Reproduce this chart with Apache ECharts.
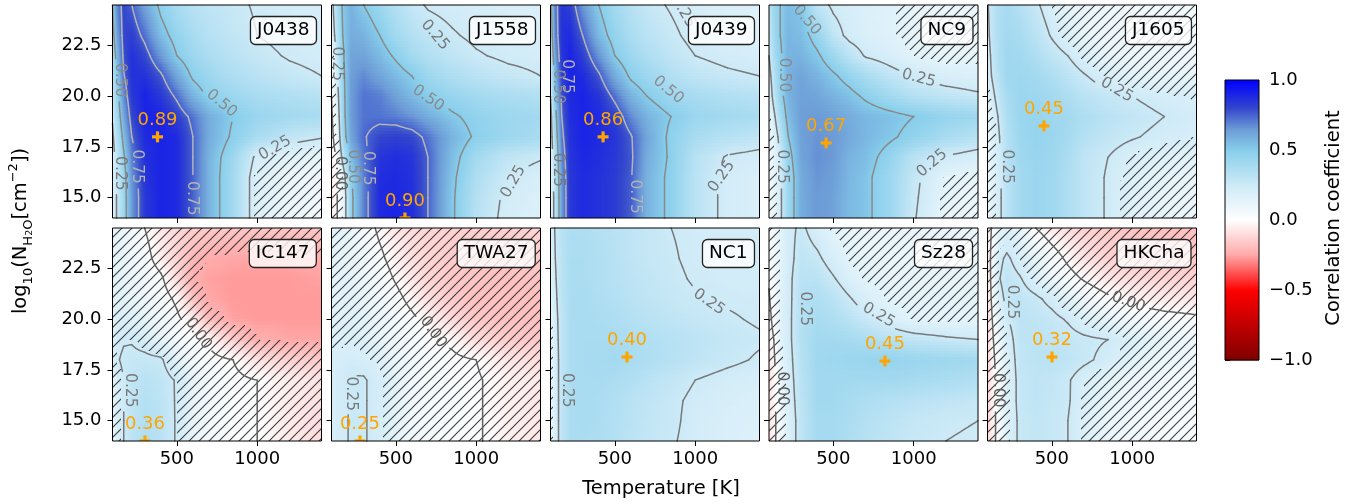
<!DOCTYPE html>
<html>
<head>
<meta charset="utf-8">
<script src="https://cdn.jsdelivr.net/npm/echarts@6/dist/echarts.min.js"></script>
<style>
  html, body { margin: 0; padding: 0; background: #fff; }
  #chart { width: 1361px; height: 504px; }
</style>
</head>
<body>
<div id="chart"></div>
<script>
// grid nodes of the correlation maps
const tempNodes = [100, 130, 170, 220, 300, 400, 500, 600, 700, 850, 1000, 1200, 1400];
const logNNodes = [24.5, 23, 22, 21, 20, 19, 18, 17, 16, 15, 14]; // rows, top to bottom

const panelNames = ['J0438', 'J1558', 'J0439', 'NC9', 'J1605', 'IC147', 'TWA27', 'NC1', 'Sz28', 'HKCha'];

const J0438 = [
  [0.50, 0.68, 0.80, 0.75, 0.62, 0.47, 0.38, 0.33, 0.30, 0.27, 0.24, 0.22, 0.21],
  [0.45, 0.62, 0.80, 0.82, 0.72, 0.55, 0.45, 0.38, 0.33, 0.29, 0.25, 0.22, 0.21],
  [0.40, 0.56, 0.78, 0.86, 0.80, 0.65, 0.50, 0.42, 0.37, 0.32, 0.28, 0.24, 0.22],
  [0.35, 0.50, 0.74, 0.86, 0.86, 0.77, 0.62, 0.48, 0.42, 0.36, 0.32, 0.28, 0.25],
  [0.30, 0.45, 0.68, 0.84, 0.90, 0.84, 0.73, 0.58, 0.48, 0.42, 0.38, 0.35, 0.33],
  [0.26, 0.40, 0.62, 0.80, 0.90, 0.90, 0.82, 0.72, 0.60, 0.50, 0.43, 0.40, 0.38],
  [0.23, 0.34, 0.55, 0.75, 0.88, 0.90, 0.88, 0.75, 0.60, 0.48, 0.38, 0.30, 0.26],
  [0.21, 0.29, 0.48, 0.70, 0.86, 0.90, 0.88, 0.75, 0.58, 0.42, 0.22, 0.15, 0.12],
  [0.20, 0.27, 0.44, 0.66, 0.85, 0.90, 0.88, 0.75, 0.58, 0.40, 0.18, 0.10, 0.08],
  [0.20, 0.26, 0.43, 0.65, 0.84, 0.90, 0.88, 0.75, 0.58, 0.40, 0.18, 0.10, 0.07],
  [0.20, 0.26, 0.43, 0.65, 0.84, 0.90, 0.88, 0.75, 0.58, 0.40, 0.18, 0.10, 0.07]
];
const J1558 = [
  [0.20, 0.35, 0.52, 0.58, 0.50, 0.42, 0.34, 0.28, 0.24, 0.22, 0.20, 0.19, 0.18],
  [0.16, 0.30, 0.50, 0.60, 0.58, 0.50, 0.40, 0.34, 0.30, 0.26, 0.23, 0.21, 0.20],
  [0.10, 0.25, 0.48, 0.62, 0.62, 0.56, 0.48, 0.40, 0.35, 0.30, 0.26, 0.23, 0.22],
  [0.05, 0.20, 0.46, 0.64, 0.68, 0.62, 0.56, 0.50, 0.42, 0.36, 0.32, 0.28, 0.25],
  [0.00, 0.15, 0.45, 0.64, 0.72, 0.70, 0.63, 0.56, 0.50, 0.44, 0.40, 0.37, 0.35],
  [-0.02, 0.10, 0.44, 0.64, 0.72, 0.72, 0.70, 0.66, 0.60, 0.52, 0.46, 0.42, 0.40],
  [-0.03, 0.05, 0.42, 0.62, 0.74, 0.80, 0.82, 0.80, 0.72, 0.58, 0.48, 0.42, 0.38],
  [-0.04, 0.00, 0.30, 0.55, 0.72, 0.85, 0.87, 0.85, 0.75, 0.55, 0.40, 0.30, 0.26],
  [-0.05, -0.02, 0.15, 0.48, 0.70, 0.87, 0.88, 0.86, 0.75, 0.53, 0.36, 0.25, 0.20],
  [-0.05, -0.02, 0.12, 0.46, 0.70, 0.88, 0.89, 0.87, 0.75, 0.52, 0.34, 0.22, 0.18],
  [-0.05, -0.02, 0.12, 0.46, 0.70, 0.88, 0.90, 0.87, 0.75, 0.52, 0.33, 0.21, 0.17]
];
const J0439 = [
  [0.45, 0.70, 0.85, 0.82, 0.65, 0.50, 0.40, 0.33, 0.28, 0.24, 0.20, 0.18, 0.17],
  [0.40, 0.68, 0.86, 0.88, 0.75, 0.56, 0.45, 0.37, 0.32, 0.27, 0.22, 0.19, 0.17],
  [0.35, 0.62, 0.85, 0.90, 0.82, 0.66, 0.50, 0.42, 0.36, 0.30, 0.25, 0.22, 0.20],
  [0.30, 0.56, 0.82, 0.90, 0.88, 0.77, 0.60, 0.48, 0.42, 0.35, 0.30, 0.27, 0.25],
  [0.25, 0.50, 0.78, 0.88, 0.90, 0.85, 0.72, 0.58, 0.50, 0.42, 0.38, 0.35, 0.33],
  [0.20, 0.45, 0.75, 0.87, 0.90, 0.88, 0.82, 0.68, 0.58, 0.50, 0.43, 0.40, 0.38],
  [0.18, 0.40, 0.72, 0.86, 0.90, 0.88, 0.85, 0.76, 0.62, 0.47, 0.38, 0.33, 0.30],
  [0.16, 0.35, 0.68, 0.85, 0.89, 0.87, 0.84, 0.77, 0.60, 0.48, 0.33, 0.24, 0.22],
  [0.15, 0.32, 0.66, 0.84, 0.88, 0.86, 0.83, 0.76, 0.58, 0.47, 0.32, 0.22, 0.19],
  [0.15, 0.30, 0.65, 0.84, 0.88, 0.86, 0.83, 0.76, 0.58, 0.47, 0.32, 0.22, 0.19],
  [0.15, 0.30, 0.65, 0.84, 0.88, 0.86, 0.83, 0.76, 0.58, 0.47, 0.32, 0.22, 0.19]
];
const NC9 = [
  [0.30, 0.42, 0.50, 0.55, 0.52, 0.30, 0.23, 0.20, 0.18, 0.16, 0.12, 0.10, 0.10],
  [0.28, 0.40, 0.50, 0.57, 0.55, 0.45, 0.30, 0.22, 0.19, 0.16, 0.12, 0.10, 0.10],
  [0.25, 0.37, 0.48, 0.58, 0.58, 0.52, 0.42, 0.32, 0.24, 0.20, 0.15, 0.12, 0.12],
  [0.20, 0.33, 0.46, 0.58, 0.62, 0.58, 0.52, 0.45, 0.38, 0.30, 0.24, 0.20, 0.18],
  [0.15, 0.30, 0.45, 0.58, 0.63, 0.62, 0.58, 0.54, 0.48, 0.40, 0.34, 0.30, 0.27],
  [0.10, 0.22, 0.38, 0.55, 0.64, 0.65, 0.63, 0.60, 0.57, 0.54, 0.50, 0.45, 0.42],
  [0.08, 0.16, 0.30, 0.50, 0.63, 0.66, 0.65, 0.61, 0.57, 0.52, 0.46, 0.38, 0.33],
  [0.06, 0.13, 0.25, 0.45, 0.62, 0.67, 0.65, 0.58, 0.55, 0.45, 0.32, 0.24, 0.20],
  [0.05, 0.12, 0.22, 0.42, 0.60, 0.66, 0.64, 0.57, 0.53, 0.42, 0.28, 0.14, 0.12],
  [0.05, 0.12, 0.22, 0.42, 0.60, 0.65, 0.63, 0.56, 0.53, 0.42, 0.27, 0.13, 0.10],
  [0.05, 0.12, 0.22, 0.42, 0.60, 0.65, 0.63, 0.56, 0.53, 0.42, 0.26, 0.12, 0.10]
];
const J1605 = [
  [0.24, 0.30, 0.36, 0.38, 0.34, 0.27, 0.19, 0.13, 0.10, 0.08, 0.07, 0.06, 0.06],
  [0.22, 0.30, 0.36, 0.40, 0.38, 0.32, 0.24, 0.17, 0.12, 0.09, 0.08, 0.07, 0.07],
  [0.20, 0.28, 0.36, 0.41, 0.40, 0.36, 0.30, 0.25, 0.18, 0.12, 0.10, 0.09, 0.08],
  [0.20, 0.26, 0.34, 0.41, 0.42, 0.40, 0.36, 0.31, 0.26, 0.19, 0.14, 0.12, 0.12],
  [0.17, 0.22, 0.30, 0.38, 0.43, 0.42, 0.40, 0.36, 0.32, 0.28, 0.25, 0.21, 0.19],
  [0.13, 0.18, 0.26, 0.36, 0.43, 0.44, 0.42, 0.40, 0.36, 0.32, 0.29, 0.25, 0.22],
  [0.10, 0.16, 0.24, 0.34, 0.42, 0.45, 0.43, 0.39, 0.34, 0.29, 0.26, 0.22, 0.20],
  [0.10, 0.15, 0.23, 0.33, 0.41, 0.44, 0.42, 0.37, 0.30, 0.25, 0.19, 0.16, 0.14],
  [0.10, 0.15, 0.22, 0.32, 0.40, 0.43, 0.41, 0.36, 0.30, 0.24, 0.17, 0.13, 0.11],
  [0.10, 0.15, 0.22, 0.32, 0.40, 0.43, 0.41, 0.36, 0.30, 0.24, 0.16, 0.12, 0.10],
  [0.10, 0.15, 0.22, 0.32, 0.40, 0.43, 0.41, 0.36, 0.30, 0.24, 0.16, 0.12, 0.10]
];
const IC147 = [
  [0.12, 0.12, 0.10, 0.06, 0.00, -0.07, -0.11, -0.14, -0.15, -0.16, -0.16, -0.16, -0.16],
  [0.13, 0.13, 0.11, 0.08, 0.04, -0.05, -0.13, -0.20, -0.24, -0.25, -0.25, -0.25, -0.24],
  [0.14, 0.14, 0.12, 0.10, 0.07, 0.02, -0.10, -0.23, -0.26, -0.27, -0.27, -0.27, -0.26],
  [0.15, 0.15, 0.14, 0.12, 0.10, 0.05, -0.02, -0.17, -0.25, -0.27, -0.27, -0.27, -0.27],
  [0.16, 0.18, 0.18, 0.16, 0.13, 0.08, 0.02, -0.05, -0.19, -0.26, -0.27, -0.27, -0.27],
  [0.17, 0.22, 0.24, 0.24, 0.20, 0.12, 0.06, 0.02, -0.02, -0.14, -0.23, -0.25, -0.25],
  [0.16, 0.24, 0.27, 0.28, 0.28, 0.27, 0.14, 0.07, 0.03, 0.00, -0.08, -0.13, -0.15],
  [0.14, 0.20, 0.25, 0.29, 0.32, 0.30, 0.24, 0.12, 0.06, 0.02, 0.00, -0.05, -0.08],
  [0.13, 0.19, 0.25, 0.30, 0.34, 0.31, 0.24, 0.12, 0.06, 0.02, 0.00, -0.06, -0.09],
  [0.12, 0.19, 0.25, 0.31, 0.35, 0.32, 0.24, 0.12, 0.06, 0.02, 0.00, -0.06, -0.10],
  [0.12, 0.19, 0.25, 0.31, 0.36, 0.32, 0.24, 0.12, 0.06, 0.02, 0.00, -0.06, -0.10]
];
const TWA27 = [
  [0.14, 0.14, 0.13, 0.10, 0.05, -0.02, -0.07, -0.10, -0.12, -0.13, -0.13, -0.13, -0.12],
  [0.14, 0.14, 0.13, 0.12, 0.08, 0.02, -0.04, -0.09, -0.12, -0.15, -0.16, -0.16, -0.15],
  [0.14, 0.14, 0.14, 0.13, 0.10, 0.05, -0.01, -0.07, -0.12, -0.16, -0.17, -0.18, -0.17],
  [0.15, 0.15, 0.15, 0.14, 0.12, 0.08, 0.03, -0.03, -0.09, -0.15, -0.18, -0.18, -0.18],
  [0.16, 0.16, 0.16, 0.16, 0.14, 0.10, 0.06, 0.02, -0.03, -0.11, -0.16, -0.18, -0.18],
  [0.18, 0.18, 0.18, 0.18, 0.16, 0.12, 0.08, 0.05, 0.02, -0.02, -0.10, -0.15, -0.16],
  [0.20, 0.20, 0.21, 0.22, 0.21, 0.17, 0.10, 0.07, 0.04, 0.02, 0.00, -0.07, -0.10],
  [0.20, 0.21, 0.23, 0.26, 0.26, 0.21, 0.14, 0.07, 0.05, 0.03, 0.01, -0.04, -0.06],
  [0.20, 0.21, 0.23, 0.26, 0.26, 0.21, 0.14, 0.07, 0.05, 0.03, 0.01, -0.04, -0.07],
  [0.20, 0.21, 0.23, 0.26, 0.26, 0.21, 0.14, 0.07, 0.05, 0.03, 0.01, -0.04, -0.07],
  [0.20, 0.21, 0.23, 0.26, 0.26, 0.21, 0.14, 0.07, 0.05, 0.03, 0.01, -0.04, -0.07]
];
const NC1 = [
  [0.18, 0.26, 0.32, 0.36, 0.36, 0.34, 0.32, 0.30, 0.28, 0.25, 0.23, 0.22, 0.22],
  [0.17, 0.25, 0.32, 0.37, 0.37, 0.35, 0.33, 0.30, 0.28, 0.26, 0.23, 0.22, 0.22],
  [0.16, 0.24, 0.32, 0.37, 0.37, 0.35, 0.33, 0.31, 0.29, 0.27, 0.24, 0.22, 0.22],
  [0.15, 0.23, 0.31, 0.37, 0.38, 0.36, 0.34, 0.32, 0.30, 0.28, 0.26, 0.24, 0.23],
  [0.13, 0.22, 0.30, 0.37, 0.38, 0.37, 0.36, 0.34, 0.32, 0.30, 0.28, 0.26, 0.24],
  [0.12, 0.21, 0.30, 0.37, 0.38, 0.38, 0.38, 0.37, 0.35, 0.33, 0.31, 0.28, 0.26],
  [0.11, 0.20, 0.30, 0.37, 0.38, 0.39, 0.40, 0.38, 0.36, 0.33, 0.30, 0.27, 0.24],
  [0.10, 0.20, 0.30, 0.37, 0.38, 0.38, 0.37, 0.35, 0.32, 0.29, 0.25, 0.22, 0.20],
  [0.10, 0.20, 0.30, 0.37, 0.38, 0.37, 0.35, 0.32, 0.30, 0.27, 0.23, 0.20, 0.18],
  [0.10, 0.20, 0.30, 0.37, 0.38, 0.37, 0.34, 0.32, 0.29, 0.27, 0.22, 0.19, 0.18],
  [0.10, 0.20, 0.30, 0.37, 0.37, 0.36, 0.34, 0.31, 0.29, 0.26, 0.22, 0.19, 0.17]
];
const Sz28 = [
  [0.05, 0.08, 0.14, 0.22, 0.27, 0.20, 0.14, 0.11, 0.10, 0.10, 0.10, 0.10, 0.10],
  [0.03, 0.07, 0.14, 0.21, 0.30, 0.27, 0.20, 0.14, 0.12, 0.11, 0.11, 0.11, 0.11],
  [0.01, 0.06, 0.14, 0.22, 0.32, 0.32, 0.26, 0.19, 0.14, 0.12, 0.12, 0.12, 0.12],
  [-0.01, 0.05, 0.15, 0.22, 0.33, 0.36, 0.32, 0.26, 0.20, 0.14, 0.13, 0.13, 0.13],
  [-0.03, 0.03, 0.15, 0.22, 0.34, 0.38, 0.36, 0.32, 0.27, 0.20, 0.14, 0.13, 0.13],
  [-0.05, 0.00, 0.14, 0.22, 0.34, 0.40, 0.40, 0.39, 0.37, 0.33, 0.30, 0.27, 0.25],
  [-0.07, -0.02, 0.12, 0.21, 0.33, 0.41, 0.42, 0.43, 0.44, 0.45, 0.43, 0.42, 0.40],
  [-0.08, -0.03, 0.08, 0.20, 0.32, 0.40, 0.40, 0.40, 0.40, 0.40, 0.39, 0.37, 0.35],
  [-0.08, -0.03, 0.07, 0.19, 0.31, 0.40, 0.40, 0.38, 0.36, 0.34, 0.32, 0.30, 0.28],
  [-0.08, -0.03, 0.07, 0.18, 0.30, 0.39, 0.39, 0.37, 0.34, 0.31, 0.28, 0.26, 0.25],
  [-0.08, -0.03, 0.07, 0.18, 0.30, 0.39, 0.39, 0.36, 0.33, 0.30, 0.27, 0.25, 0.24]
];
const HKCha = [
  [-0.08, 0.02, 0.12, 0.16, 0.12, 0.00, -0.06, -0.10, -0.13, -0.15, -0.17, -0.18, -0.18],
  [-0.08, 0.05, 0.22, 0.27, 0.20, 0.12, 0.05, -0.02, -0.08, -0.13, -0.15, -0.16, -0.16],
  [-0.09, 0.05, 0.24, 0.30, 0.26, 0.18, 0.10, 0.04, -0.01, -0.07, -0.10, -0.12, -0.12],
  [-0.10, 0.03, 0.20, 0.28, 0.30, 0.27, 0.22, 0.15, 0.08, 0.02, -0.03, -0.06, -0.07],
  [-0.10, 0.00, 0.15, 0.24, 0.31, 0.30, 0.28, 0.24, 0.18, 0.12, 0.07, 0.04, 0.02],
  [-0.11, -0.02, 0.10, 0.20, 0.30, 0.31, 0.30, 0.29, 0.27, 0.25, 0.18, 0.12, 0.08],
  [-0.12, -0.04, 0.07, 0.18, 0.29, 0.31, 0.32, 0.30, 0.27, 0.22, 0.15, 0.10, 0.07],
  [-0.12, -0.05, 0.05, 0.17, 0.28, 0.30, 0.29, 0.26, 0.20, 0.14, 0.10, 0.07, 0.05],
  [-0.12, -0.05, 0.05, 0.17, 0.28, 0.30, 0.28, 0.26, 0.19, 0.12, 0.08, 0.06, 0.04],
  [-0.12, -0.05, 0.05, 0.17, 0.27, 0.29, 0.28, 0.25, 0.18, 0.11, 0.07, 0.05, 0.03],
  [-0.12, -0.05, 0.05, 0.17, 0.27, 0.29, 0.28, 0.25, 0.18, 0.11, 0.07, 0.05, 0.03]
];
const panelGrids = [J0438, J1558, J0439, NC9, J1605, IC147, TWA27, NC1, Sz28, HKCha];

// |r| below this is hatched (not significant)
const hatchThreshold = [0.2, 0.15, 0.14, 0.15, 0.2, 0.235, 0.19, 0.15, 0.15, 0.2];

// best fit per panel
const bestT = [380, 557, 427, 455, 451, 302, 277, 576, 821, 501];
const bestLogN = [18.0, 14.0, 18.0, 17.7, 18.54, 14.0, 14.0, 18.14, 17.94, 18.14];
const bestR = ['0.89', '0.90', '0.86', '0.67', '0.45', '0.36', '0.25', '0.40', '0.45', '0.32'];

const contourLevels = [0, 0.25, 0.5, 0.75];
// [T, logN, text, rotation deg]
const contourLabels = [
  [[779, 19.65, '0.50', -40], [1111, 17.44, '0.25', 30], [593, 14.97, '0.75', -90], [254, 16.53, '0.75', -90], [147, 16.2, '0.25', -90], [147, 20.8, '0.50', -90]],
  [[744, 23.02, '0.25', -50], [702, 19.9, '0.50', -35], [1231, 15.79, '0.25', 60], [236, 16.53, '0.50', -90], [329, 16.45, '0.75', -90], [153, 16.2, '0.00', -90], [132, 21.6, '0.25', -90]],
  [[833, 20.31, '0.50', -40], [1165, 16.04, '0.25', 55], [626, 15.05, '0.75', -90], [201, 20.97, '0.75', -90], [149, 20.47, '0.50', -90], [149, 16.37, '0.25', -90], [926, 24.17, '0.25', -60]],
  [[336, 23.76, '0.50', -50], [191, 21.05, '0.50', -90], [1031, 20.89, '0.25', -15], [1114, 16.7, '0.25', 40], [181, 16.53, '0.25', -90]],
  [[904, 20.31, '0.25', -30], [219, 16.53, '0.25', -90]],
  [[634, 19.29, '0.00', -55], [209, 16.5, '0.25', -90]],
  [[733, 19.37, '0.00', -55], [221, 16.33, '0.25', -90]],
  [[1086, 20.85, '0.25', -35], [201, 16.5, '0.25', -90]],
  [[782, 20.2, '0.25', -30], [326, 20.52, '0.25', -90], [181, 16.58, '0.00', -90]],
  [[976, 20.85, '0.00', -20], [250, 20.85, '0.25', -90], [167, 16.5, '0.00', -90]]
];

const xTicks = [500, 1000];
const yTicks = [15, 17.5, 20, 22.5];
const cbarTicks = [-1, -0.5, 0, 0.5, 1];

// colour map
const cmapStops = [[-1, '#800000'], [-0.5, '#ff0000'], [-0.25, '#ffa8a8'], [0, '#ffffff'], [0.25, '#cdeaf7'], [0.5, '#87ceeb'], [0.65, '#6c9bd6'], [0.8, '#3346cc'], [1, '#0000ff']];
const levelColors = ['#606060', '#787878', '#8a8a8a', '#b4b4b4'];
const FONT = 'DejaVu Sans';

// layout
const W = 1361;
const gridLefts = [112.5, 331.5, 550.5, 769, 987.5];
const gridTops = [5, 228];
const GW = 209, GH = 213;

function hexRgb(c) {
  return [parseInt(c.slice(1, 3), 16), parseInt(c.slice(3, 5), 16), parseInt(c.slice(5, 7), 16)];
}
const stopRgb = cmapStops.map(s => [s[0], hexRgb(s[1])]);
function cmap(v) {
  v = Math.max(-1, Math.min(1, v));
  for (let k = 0; k < stopRgb.length - 1; k++) {
    const a = stopRgb[k], b = stopRgb[k + 1];
    if (v <= b[0]) {
      const t = (v - a[0]) / (b[0] - a[0]);
      return 'rgb(' + [0, 1, 2].map(q => Math.round(a[1][q] + (b[1][q] - a[1][q]) * t)).join(',') + ')';
    }
  }
  return cmapStops[cmapStops.length - 1][1];
}

// hatch tile
const HS = 10;
const hatchCanvas = document.createElement('canvas');
hatchCanvas.width = HS;
hatchCanvas.height = HS;
(function () {
  const hc = hatchCanvas.getContext('2d');
  hc.strokeStyle = 'rgba(45,45,45,0.9)';
  hc.lineWidth = 1.15;
  hc.beginPath();
  hc.moveTo(-1, HS + 1); hc.lineTo(HS + 1, -1);
  hc.moveTo(-1, 1); hc.lineTo(1, -1);
  hc.moveTo(HS - 1, HS + 1); hc.lineTo(HS + 1, HS - 1);
  hc.stroke();
})();
const hatchPattern = { image: hatchCanvas, repeat: 'repeat' };

function cellBox(api, i, j) {
  const p0 = api.coord([tempNodes[i], logNNodes[j]]);
  const p1 = api.coord([tempNodes[i + 1], logNNodes[j + 1]]);
  return { x0: p0[0], y0: p0[1], x1: p1[0], y1: p1[1] };
}
function corners(grid, i, j) {
  return [grid[j][i], grid[j][i + 1], grid[j + 1][i], grid[j + 1][i + 1]];
}
function bil(c, u, t) {
  return (c[0] * (1 - u) + c[1] * u) * (1 - t) + (c[2] * (1 - u) + c[3] * u) * t;
}

function heatItem(p) {
  return function (params, api) {
    const i = api.value(2), j = api.value(3);
    const b = cellBox(api, i, j), c = corners(panelGrids[p], i, j);
    const x0 = Math.round(b.x0), x1 = Math.round(b.x1);
    const n = Math.max(1, Math.round((b.y1 - b.y0) / 3));
    const children = [];
    for (let k = 0; k < n; k++) {
      const ya = Math.round(b.y0 + (b.y1 - b.y0) * k / n);
      const yb = Math.round(b.y0 + (b.y1 - b.y0) * (k + 1) / n);
      const t = (k + 0.5) / n;
      const stops = [0, 0.25, 0.5, 0.75, 1].map(u => ({ offset: u, color: cmap(bil(c, u, t)) }));
      children.push({
        type: 'rect',
        shape: { x: x0, y: ya, width: x1 - x0, height: yb - ya },
        style: { fill: new echarts.graphic.LinearGradient(0, 0, 1, 0, stops) }
      });
    }
    return { type: 'group', children: children };
  };
}

function hatchItem(p) {
  return function (params, api) {
    const i = api.value(2), j = api.value(3);
    const b = cellBox(api, i, j), c = corners(panelGrids[p], i, j), thr = hatchThreshold[p];
    const nx = Math.max(1, Math.round((b.x1 - b.x0) / 3));
    const ny = Math.max(1, Math.round((b.y1 - b.y0) / 3));
    const children = [];
    for (let k = 0; k < ny; k++) {
      const ya = Math.round(b.y0 + (b.y1 - b.y0) * k / ny);
      const yb = Math.round(b.y0 + (b.y1 - b.y0) * (k + 1) / ny);
      const t = (k + 0.5) / ny;
      let start = -1;
      for (let m = 0; m <= nx; m++) {
        const inside = m < nx && Math.abs(bil(c, (m + 0.5) / nx, t)) < thr;
        if (inside && start < 0) start = m;
        if (!inside && start >= 0) {
          const xa = Math.round(b.x0 + (b.x1 - b.x0) * start / nx);
          const xb = Math.round(b.x0 + (b.x1 - b.x0) * m / nx);
          children.push({ type: 'rect', shape: { x: xa, y: ya, width: xb - xa, height: yb - ya }, style: { fill: hatchPattern } });
          start = -1;
        }
      }
    }
    return { type: 'group', children: children };
  };
}

function labelBoxes(p, api) {
  return contourLabels[p].map(L => {
    const pt = api.coord([L[0], L[1]]);
    const th = L[3] * Math.PI / 180;
    return { x: pt[0], y: pt[1], dx: Math.cos(th), dy: -Math.sin(th), w: 15.5 * 0.6 * L[2].length + 8, h: 15, level: parseFloat(L[2]) };
  });
}

function contourItem(p) {
  return function (params, api) {
    const i = api.value(2), j = api.value(3);
    const b = cellBox(api, i, j), c = corners(panelGrids[p], i, j);
    const nx = Math.max(1, Math.round((b.x1 - b.x0) / 3));
    const ny = Math.max(1, Math.round((b.y1 - b.y0) / 3));
    const boxes = labelBoxes(p, api);
    const mn = Math.min.apply(null, c), mx = Math.max.apply(null, c);
    const children = [];
    contourLevels.forEach((lev, li) => {
      if (lev < mn || lev > mx) return;
      const myBoxes = boxes.filter(bx => Math.abs(bx.level - lev) < 1e-6);
      let d = '';
      for (let k = 0; k < ny; k++) {
        for (let m = 0; m < nx; m++) {
          const u0 = m / nx, u1 = (m + 1) / nx, t0 = k / ny, t1 = (k + 1) / ny;
          const X0 = b.x0 + (b.x1 - b.x0) * u0, X1 = b.x0 + (b.x1 - b.x0) * u1;
          const Y0 = b.y0 + (b.y1 - b.y0) * t0, Y1 = b.y0 + (b.y1 - b.y0) * t1;
          const va = bil(c, u0, t0) - lev, vb = bil(c, u1, t0) - lev;
          const vc = bil(c, u1, t1) - lev, vd = bil(c, u0, t1) - lev;
          const pts = [];
          if ((va < 0) !== (vb < 0)) pts.push([X0 + (X1 - X0) * va / (va - vb), Y0]);
          if ((vb < 0) !== (vc < 0)) pts.push([X1, Y0 + (Y1 - Y0) * vb / (vb - vc)]);
          if ((vd < 0) !== (vc < 0)) pts.push([X0 + (X1 - X0) * vd / (vd - vc), Y1]);
          if ((va < 0) !== (vd < 0)) pts.push([X0, Y0 + (Y1 - Y0) * va / (va - vd)]);
          const segs = [];
          if (pts.length === 2) segs.push([pts[0], pts[1]]);
          else if (pts.length === 4) {
            const ctr = (va + vb + vc + vd) / 4;
            if ((ctr < 0) === (va < 0)) segs.push([pts[0], pts[1]], [pts[2], pts[3]]);
            else segs.push([pts[3], pts[0]], [pts[1], pts[2]]);
          }
          segs.forEach(s => {
            const mxp = (s[0][0] + s[1][0]) / 2, myp = (s[0][1] + s[1][1]) / 2;
            const hidden = myBoxes.some(bx => {
              const ex = mxp - bx.x, ey = myp - bx.y;
              const along = ex * bx.dx + ey * bx.dy;
              const across = -ex * bx.dy + ey * bx.dx;
              return Math.abs(along) < bx.w / 2 && Math.abs(across) < bx.h / 2;
            });
            if (!hidden) d += 'M' + s[0][0].toFixed(2) + ' ' + s[0][1].toFixed(2) + 'L' + s[1][0].toFixed(2) + ' ' + s[1][1].toFixed(2);
          });
        }
      }
      if (d) {
        children.push({ type: 'path', shape: { pathData: d }, style: { fill: 'none', stroke: levelColors[li], lineWidth: 1.5, lineCap: 'round' } });
      }
    });
    return { type: 'group', children: children };
  };
}

function labelItem(p) {
  return function (params, api) {
    const L = contourLabels[p][api.value(2)];
    const pt = api.coord([L[0], L[1]]);
    const li = contourLevels.indexOf(parseFloat(L[2]));
    return {
      type: 'text', x: pt[0], y: pt[1], rotation: L[3] * Math.PI / 180,
      style: { text: L[2], fill: levelColors[li], fontSize: 15.5, fontFamily: FONT, align: 'center', verticalAlign: 'middle' }
    };
  };
}

function markerItem(p) {
  return function (params, api) {
    const pt = api.coord([api.value(0), api.value(1)]);
    return {
      type: 'group',
      children: [
        { type: 'rect', shape: { x: pt[0] - 5.5, y: pt[1] - 1.6, width: 11, height: 3.2 }, style: { fill: '#ffa500' } },
        { type: 'rect', shape: { x: pt[0] - 1.6, y: pt[1] - 5.5, width: 3.2, height: 11 }, style: { fill: '#ffa500' } },
        { type: 'text', x: pt[0], y: pt[1] - 17, style: { text: bestR[p], fill: '#ffa500', fontSize: 18, fontFamily: FONT, align: 'center', verticalAlign: 'middle' } }
      ]
    };
  };
}

const grids = [], xAxes = [], yAxes = [], series = [], titles = [];
const cellData = [];
for (let j = 0; j < logNNodes.length - 1; j++) {
  for (let i = 0; i < tempNodes.length - 1; i++) {
    cellData.push([(tempNodes[i] + tempNodes[i + 1]) / 2, (logNNodes[j] + logNNodes[j + 1]) / 2, i, j]);
  }
}

panelNames.forEach((name, p) => {
  const row = Math.floor(p / 5), col = p % 5;
  grids.push({ left: gridLefts[col], top: gridTops[row], width: GW, height: GH, show: true, borderColor: '#000', borderWidth: 1, backgroundColor: 'transparent', z: 10 });
  xAxes.push({
    type: 'value', gridIndex: p, min: 100, max: 1400,
    axisLine: { show: false }, splitLine: { show: false },
    axisTick: { show: true, inside: false, length: 5, customValues: xTicks, lineStyle: { color: '#000', width: 1 } },
    axisLabel: { show: row === 1, customValues: xTicks, margin: 9, fontSize: 18, color: '#000', fontFamily: FONT, formatter: v => String(v) }
  });
  yAxes.push({
    type: 'value', gridIndex: p, min: 14, max: 24.5,
    axisLine: { show: false }, splitLine: { show: false },
    axisTick: { show: true, inside: false, length: 5, customValues: yTicks, lineStyle: { color: '#000', width: 1 } },
    axisLabel: { show: col === 0, customValues: yTicks, margin: 11, fontSize: 18, color: '#000', fontFamily: FONT, formatter: v => v.toFixed(1) }
  });
  const base = { type: 'custom', coordinateSystem: 'cartesian2d', xAxisIndex: p, yAxisIndex: p, silent: true, animation: false };
  series.push(Object.assign({}, base, { name: name + ' map', z: 1, dimensions: ['T', 'N', 'i', 'j'], encode: { x: 0, y: 1 }, data: cellData, renderItem: heatItem(p) }));
  series.push(Object.assign({}, base, { name: name + ' hatch', z: 2, dimensions: ['T', 'N', 'i', 'j'], encode: { x: 0, y: 1 }, data: cellData, renderItem: hatchItem(p) }));
  series.push(Object.assign({}, base, { name: name + ' contours', z: 3, dimensions: ['T', 'N', 'i', 'j'], encode: { x: 0, y: 1 }, data: cellData, renderItem: contourItem(p) }));
  series.push(Object.assign({}, base, { name: name + ' labels', z: 4, clip: true, dimensions: ['T', 'N', 'k'], encode: { x: 0, y: 1 }, data: contourLabels[p].map((L, k) => [L[0], L[1], k]), renderItem: labelItem(p) }));
  series.push(Object.assign({}, base, { name: name + ' best', z: 5, clip: true, dimensions: ['T', 'N'], encode: { x: 0, y: 1 }, data: [[bestT[p], bestLogN[p]]], renderItem: markerItem(p) }));
  titles.push({
    text: name, right: W - (gridLefts[col] + GW - 5), top: gridTops[row] + 11,
    padding: [4, 7], borderColor: '#222', borderWidth: 1.3, borderRadius: 5, backgroundColor: 'rgba(255,255,255,0.8)',
    textStyle: { fontSize: 18.5, fontWeight: 'normal', color: '#000', fontFamily: FONT, lineHeight: 21 }
  });
});

// colour bar
const cb = panelNames.length;
grids.push({ left: 1225, top: 80, width: 34, height: 280, show: true, borderColor: '#000', borderWidth: 1, backgroundColor: 'transparent', z: 10 });
xAxes.push({ type: 'value', gridIndex: cb, min: 0, max: 1, show: false });
yAxes.push({
  type: 'value', gridIndex: cb, min: -1, max: 1, interval: 0.5, position: 'right',
  axisLine: { show: false }, splitLine: { show: false },
  axisTick: { show: true, length: 5, lineStyle: { color: '#000', width: 1 } },
  axisLabel: { margin: 10, fontSize: 18, color: '#000', fontFamily: FONT, formatter: v => (v < 0 ? '\u2212' : '') + Math.abs(v).toFixed(1) }
});
series.push({
  type: 'custom', coordinateSystem: 'cartesian2d', xAxisIndex: cb, yAxisIndex: cb, silent: true, animation: false, z: 1,
  dimensions: ['x', 'v', 'k'], encode: { x: 0, y: 1 },
  data: cmapStops.slice(0, -1).map((s, k) => [0.5, (s[0] + cmapStops[k + 1][0]) / 2, k]),
  renderItem: function (params, api) {
    const k = api.value(2);
    const lo = cmapStops[k], hi = cmapStops[k + 1];
    const p0 = api.coord([0, lo[0]]), p1 = api.coord([1, hi[0]]);
    return {
      type: 'rect',
      shape: { x: p0[0], y: p1[1], width: p1[0] - p0[0], height: p0[1] - p1[1] + 0.5 },
      style: { fill: new echarts.graphic.LinearGradient(0, 1, 0, 0, [{ offset: 0, color: lo[1] }, { offset: 1, color: hi[1] }]) }
    };
  }
});

const chart = echarts.init(document.getElementById('chart'), null, { renderer: 'canvas' });
chart.setOption({
  animation: false,
  backgroundColor: '#fff',
  textStyle: { fontFamily: FONT },
  title: titles,
  grid: grids,
  xAxis: xAxes,
  yAxis: yAxes,
  series: series,
  graphic: [
    { type: 'text', x: 661, y: 489, style: { text: 'Temperature [K]', fontSize: 19.5, fontFamily: FONT, fill: '#000', align: 'center', verticalAlign: 'middle' } },
    { type: 'text', x: 1334, y: 218, rotation: Math.PI / 2, style: { text: 'Correlation coefficient', fontSize: 19.5, fontFamily: FONT, fill: '#000', align: 'center', verticalAlign: 'middle' } },
    {
      type: 'text', x: 21, y: 231, rotation: Math.PI / 2,
      style: {
        text: '{a|log}{b|10}{a|(N}{b|H}{c|2}{b|O}{a|[cm}{d|\u22122}{a|])}',
        align: 'center', verticalAlign: 'middle', fill: '#000', fontFamily: FONT, fontSize: 19.5,
        rich: {
          a: { fontSize: 19.5, fontFamily: FONT, fill: '#000', lineHeight: 28 },
          b: { fontSize: 13, fontFamily: FONT, fill: '#000', lineHeight: 13, verticalAlign: 'bottom' },
          c: { fontSize: 9.5, fontFamily: FONT, fill: '#000', lineHeight: 9, verticalAlign: 'bottom' },
          d: { fontSize: 13, fontFamily: FONT, fill: '#000', lineHeight: 13, verticalAlign: 'top' }
        }
      }
    }
  ]
});
window.onresize = () => chart.resize();
</script>
</body>
</html>
